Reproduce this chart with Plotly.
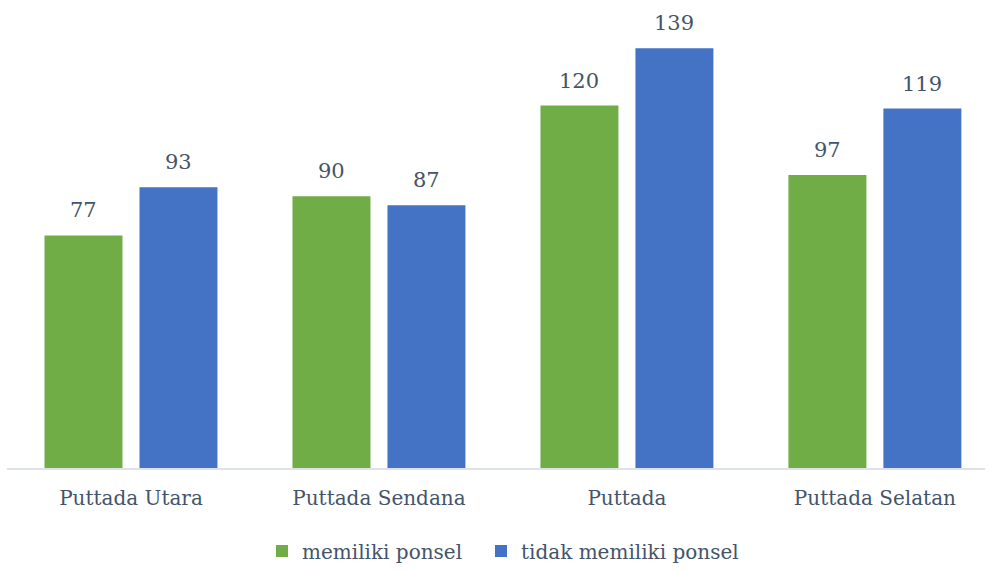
import plotly.graph_objects as go

categories = ["Puttada Utara", "Puttada Sendana", "Puttada", "Puttada Selatan"]
series_names = ["memiliki ponsel", "tidak memiliki ponsel"]
memiliki = [77, 90, 120, 97]
tidak_memiliki = [93, 87, 139, 119]

FONT = "DejaVu Serif"
TXT = "#44546A"

fig = go.Figure()
fig.add_trace(go.Bar(
    x=categories, y=memiliki, name=series_names[0],
    marker=dict(color="#70AD47", line=dict(width=0)),
    offsetgroup="a", legend="legend", showlegend=True,
))
fig.add_trace(go.Bar(
    x=categories, y=tidak_memiliki, name=series_names[1],
    marker=dict(color="#4472C4", line=dict(width=0)),
    offsetgroup="b", legend="legend2", showlegend=True,
))

# data labels placed from the data values
for i, c in enumerate(categories):
    fig.add_annotation(x=c, y=memiliki[i], text=str(memiliki[i]), xref="x", yref="y",
                       showarrow=False, yanchor="middle", yshift=25, xshift=-47.5,
                       font=dict(family=FONT, size=21, color=TXT))
    fig.add_annotation(x=c, y=tidak_memiliki[i], text=str(tidak_memiliki[i]), xref="x", yref="y",
                       showarrow=False, yanchor="middle", yshift=25, xshift=47.5,
                       font=dict(family=FONT, size=21, color=TXT))

W, H = 993, 574
PLOT_L, PLOT_W = 7, 978
leg_common = dict(orientation="h", xanchor="left", xref="container",
                  yref="container", y=1 - 551 / H, yanchor="middle",
                  font=dict(family=FONT, size=20, color=TXT), itemwidth=30,
                  bgcolor="rgba(0,0,0,0)")

fig.update_layout(
    width=W, height=H, showlegend=True,
    paper_bgcolor="white", plot_bgcolor="white",
    margin=dict(l=PLOT_L, r=W - PLOT_L - PLOT_W, t=15, b=106),
    barmode="group", bargap=0.234, bargroupgap=0.179,
    font=dict(family=FONT, size=20, color=TXT),
    legend=dict(x=(276 - 14) / W, **leg_common),
    legend2=dict(x=(495 - 14) / W, **leg_common),
)
fig.update_xaxes(showline=True, linecolor="#DDE2E8", linewidth=2, ticks="",
                 tickfont=dict(family=FONT, size=20, color=TXT), showgrid=False,
                 range=[-0.5, 3.444], ticklabelstandoff=11, automargin=False)
fig.update_yaxes(visible=False, range=[0, 150], showgrid=False, automargin=False)

fig.write_html("out.html", config={"displayModeBar": False},
               post_script="document.body.style.margin='0';")
